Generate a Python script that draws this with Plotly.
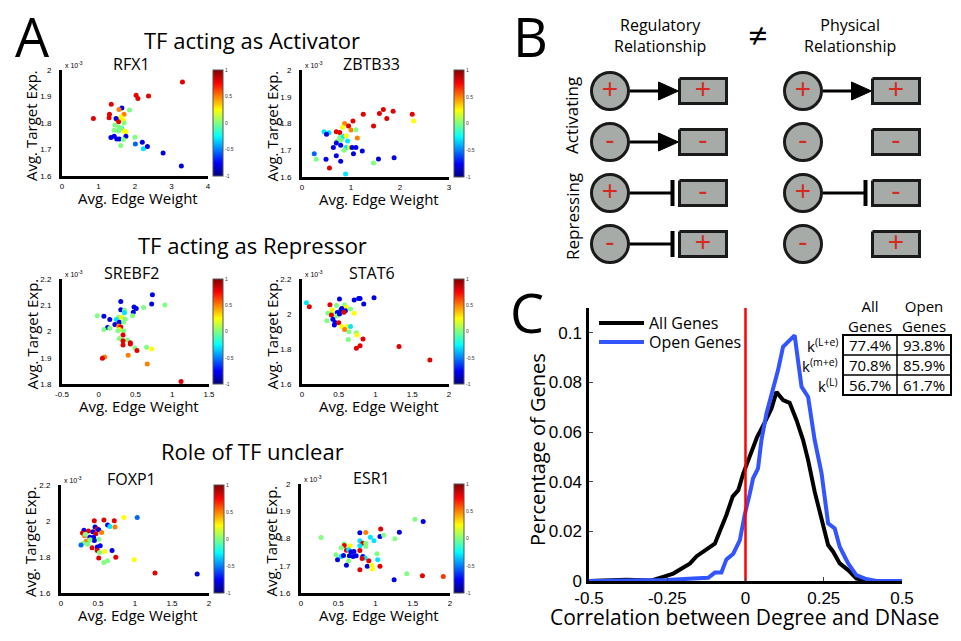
import plotly.graph_objects as go

W, H = 961, 641
def px(x): return x / W
def py(y): return 1 - y / H

MY = "Open Sans"
AR = "Liberation Sans"

# ---------------- Panel A data (y in units of 1e-3) ----------------
rfx1_x = [3.30, 2.03, 2.08, 2.37, 1.35, 0.86, 1.30, 1.29, 1.64, 1.56,
          1.70, 1.61, 1.50, 1.48, 1.68, 1.55, 1.70, 1.85, 1.45, 1.55,
          1.64, 1.43, 1.70, 1.75, 1.75, 1.34, 1.43, 1.50, 1.57, 1.68,
          1.61, 2.00, 2.20, 2.01, 2.23, 2.34, 2.77, 3.27, 1.61, 1.55]
rfx1_y = [1.955, 1.905, 1.892, 1.902, 1.871, 1.817, 1.833, 1.820, 1.857, 1.851,
          1.833, 1.823, 1.813, 1.817, 1.811, 1.805, 1.800, 1.849, 1.792, 1.785,
          1.779, 1.773, 1.770, 1.767, 1.750, 1.745, 1.750, 1.740, 1.740, 1.738,
          1.715, 1.746, 1.727, 1.721, 1.703, 1.711, 1.687, 1.638, 1.779, 1.770]
rfx1_c = [0.8, 0.8, 0.8, 0.8, 0.8, 0.8, 0.8, 0.8, -0.8, 0.5,
          0.5, 0.25, 0.5, -0.8, 0.25, 0.8, 0.0, 0.0, 0.0, 0.0,
          -0.3, 0.0, 0.25, 0.25, -0.8, -0.8, -0.8, -0.8, -0.8, 0.0,
          0.0, 0.0, -0.8, -0.55, -0.3, -0.8, -0.8, -0.8, 0.0, 0.0]

zbtb33_x = [1.86, 1.66, 1.58, 1.25, 1.73, 2.25, 2.28, 1.04, 1.46, 0.87,
            0.95, 0.83, 1.00, 1.10, 1.13, 0.70, 0.77, 0.45, 0.55, 0.50,
            0.77, 0.81, 0.79, 0.72, 0.85, 0.90, 0.93, 0.70, 0.79, 0.64,
            0.90, 0.97, 1.02, 1.10, 0.86, 1.23, 1.05, 0.70, 0.25, 0.29,
            0.49, 0.79, 0.56, 1.56, 1.88, 1.46, 0.89]
zbtb33_y = [1.846, 1.852, 1.837, 1.835, 1.819, 1.835, 1.809, 1.809, 1.791, 1.800,
            1.791, 1.786, 1.776, 1.777, 1.746, 1.769, 1.766, 1.769, 1.765, 1.760,
            1.748, 1.744, 1.737, 1.734, 1.752, 1.754, 1.735, 1.727, 1.719, 1.710,
            1.710, 1.710, 1.710, 1.710, 1.700, 1.697, 1.687, 1.679, 1.687, 1.666,
            1.666, 1.659, 1.634, 1.667, 1.672, 1.652, 1.611]
zbtb33_c = [0.8, 0.8, 0.8, 0.8, 0.8, 0.8, 0.25, 0.8, 0.8, 0.5,
            0.8, 0.25, 0.5, 0.0, 0.5, 0.8, 0.8, -0.3, -0.3, -0.8,
            0.0, 0.0, 0.0, 0.0, -0.3, 0.25, -0.3, -0.8, -0.8, -0.8,
            -0.3, 0.25, -0.8, -0.8, 0.0, -0.8, -0.8, -0.8, -0.55, 0.0,
            -0.8, -0.8, 0.8, -0.8, -0.8, 0.0, -0.3]

srebf2_x = [0.73, 0.72, 0.30, 0.90, 0.61, 0.48, 0.51, 0.30, 0.35, 0.47,
            0.35, 0.46, -0.02, 0.07, 0.15, 0.27, 0.31, 0.36, 0.24, 0.28,
            0.22, 0.34, 0.27, 0.30, 0.12, 0.15, 0.07, 0.28, 0.26, 0.34,
            0.33, 0.28, 0.39, 0.33, 0.43, 0.43, 0.33, 0.49, 0.65, 0.72,
            0.52, 0.40, 0.08, 0.05, 0.66, 1.12]
srebf2_y = [2.140, 2.105, 2.114, 2.101, 2.091, 2.093, 2.088, 2.083, 2.081, 2.073,
            2.071, 2.060, 2.060, 2.058, 2.046, 2.054, 2.054, 2.048, 2.046, 2.035,
            2.027, 2.036, 2.021, 2.017, 2.015, 2.012, 2.008, 2.008, 2.003, 2.003,
            1.987, 1.973, 1.968, 1.965, 1.957, 1.952, 1.949, 1.937, 1.940, 1.933,
            1.928, 1.910, 1.903, 1.898, 1.876, 1.810]
srebf2_c = [-0.8, -0.8, -0.8, 0.0, 0.0, -0.8, -0.8, -0.8, 0.0, -0.8,
            -0.3, 0.0, 0.0, -0.8, -0.8, 0.0, 0.25, 0.0, -0.3, -0.8,
            -0.8, 0.0, 0.5, 0.8, -0.8, 0.0, 0.0, 0.25, 0.0, 0.0,
            0.8, 0.0, 0.0, 0.8, 0.8, 0.8, 0.8, 0.0, 0.0, 0.25,
            0.8, 0.5, 0.5, 0.8, 0.5, 0.8]

stat6_x = [0.98, 0.77, 0.79, 0.71, 0.51, 0.84, 0.06, 0.10, 0.38, 0.47,
           0.58, 0.60, 0.66, 0.54, 0.53, 0.59, 0.48, 0.35, 0.41, 0.57,
           0.71, 0.40, 0.47, 0.34, 0.42, 0.51, 0.45, 0.50, 0.44, 0.54,
           0.62, 0.66, 0.58, 0.64, 0.74, 0.75, 0.83, 0.63, 0.79, 0.74,
           1.32, 1.74, 0.41]
stat6_y = [2.093, 2.088, 2.088, 2.080, 2.086, 2.057, 2.065, 2.042, 2.053, 2.048,
           2.051, 2.038, 2.029, 2.032, 2.023, 2.019, 2.008, 2.004, 2.004, 2.010,
           2.004, 1.994, 1.989, 1.962, 1.970, 2.000, 1.952, 1.950, 1.937, 1.928,
           1.928, 1.928, 1.912, 1.899, 1.893, 1.880, 1.857, 1.855, 1.819, 1.804,
           1.815, 1.737, 2.023]
stat6_c = [-0.8, -0.8, -0.8, -0.8, -0.8, -0.8, -0.3, 0.8, 0.8, 0.0,
           0.0, 0.25, 0.0, -0.8, -0.8, -0.8, -0.8, 0.0, 0.0, 0.8,
           0.25, 0.8, 0.0, 0.0, -0.8, -0.8, -0.8, 0.8, -0.8, 0.25,
           0.25, -0.3, 0.5, 0.0, 0.0, 0.25, 0.8, 0.0, 0.8, 0.8,
           0.8, 0.8, 0.25]

foxp1_x = [1.03, 0.85, 0.58, 0.72, 0.45, 0.63, 0.66, 0.73, 0.46, 0.49,
           0.51, 0.31, 0.37, 0.43, 0.55, 0.29, 0.47, 0.32, 0.39, 0.44,
           0.51, 0.40, 0.45, 0.34, 0.30, 0.27, 0.36, 0.42, 0.49, 0.49,
           0.53, 0.59, 0.52, 0.69, 0.51, 0.74, 0.63, 0.58, 0.99, 1.27,
           1.84, 0.33, 0.39]
foxp1_y = [2.019, 2.019, 2.006, 2.002, 2.002, 1.978, 1.969, 1.967, 1.966, 1.956,
           1.951, 1.949, 1.945, 1.940, 1.936, 1.934, 1.929, 1.918, 1.910, 1.910,
           1.899, 1.895, 1.892, 1.888, 1.877, 1.866, 1.871, 1.851, 1.855, 1.836,
           1.862, 1.831, 1.825, 1.836, 1.794, 1.798, 1.779, 1.770, 1.785, 1.711,
           1.705, 1.927, 1.895]
foxp1_c = [-0.55, 0.25, 0.8, 0.8, 0.8, -0.8, -0.3, 0.5, -0.8, 0.8,
           -0.8, -0.8, 0.8, -0.8, 0.5, 0.8, 0.8, 0.5, -0.8, -0.8,
           0.0, 0.0, -0.8, 0.5, 0.0, -0.55, 0.0, 0.8, -0.8, 0.8,
           -0.8, 0.25, 0.0, -0.8, 0.8, 0.8, 0.0, 0.0, 0.25, 0.8,
           -0.8, 0.0, 0.0]

esr1_x = [1.53, 1.64, 0.27, 0.79, 0.87, 1.07, 1.32, 0.93, 1.06, 1.11,
          1.26, 0.98, 0.79, 0.83, 0.87, 0.58, 0.66, 0.58, 0.79, 0.87,
          0.54, 0.61, 0.64, 0.71, 0.67, 0.79, 0.47, 0.54, 0.57, 0.65,
          0.70, 0.74, 0.83, 0.86, 0.82, 1.02, 0.91, 0.49, 0.64, 1.03,
          0.61, 0.89, 1.06, 0.95, 0.96, 0.79, 1.25, 1.42, 1.63, 1.91]
esr1_y = [1.871, 1.862, 1.804, 1.821, 1.822, 1.835, 1.823, 1.805, 1.807, 1.812,
          1.799, 1.792, 1.792, 1.783, 1.783, 1.780, 1.773, 1.774, 1.773, 1.771,
          1.766, 1.757, 1.759, 1.752, 1.751, 1.756, 1.740, 1.734, 1.738, 1.737,
          1.734, 1.737, 1.734, 1.728, 1.727, 1.744, 1.718, 1.722, 1.718, 1.722,
          1.702, 1.698, 1.698, 1.702, 1.688, 1.685, 1.649, 1.671, 1.663, 1.661]
esr1_c = [0.0, -0.8, 0.0, -0.8, 0.5, 0.8, -0.8, -0.3, -0.8, 0.0,
          0.0, -0.3, -0.3, 0.8, 0.0, 0.0, 0.25, 0.8, -0.3, 0.0,
          0.0, 0.8, -0.3, -0.8, -0.8, 0.8, 0.0, -0.3, -0.8, -0.8,
          -0.8, -0.8, -0.8, -0.3, 0.8, 0.0, 0.8, -0.8, 0.0, -0.3,
          -0.8, -0.8, 0.8, 0.25, 0.25, 0.8, -0.8, 0.0, 0.8, 0.65]

colorbar_ticks = [-1, -0.5, 0, 0.5, 1]

# ---------------- Panel C data ----------------
all_genes_x = [-0.5, -0.4, -0.38, -0.3, -0.284, -0.263, -0.231, -0.199, -0.178, -0.156,
               -0.124, -0.098, -0.082, -0.061, -0.041, -0.023, -0.007, 0.014, 0.037, 0.062,
               0.083, 0.099, 0.12, 0.141, 0.163, 0.184, 0.2, 0.221, 0.243, 0.264,
               0.28, 0.301, 0.328, 0.354, 0.386, 0.5]
all_genes_y = [0, 0.0002, 0.0005, 0.0002, 0.001, 0.0017, 0.003, 0.0055, 0.007, 0.010,
               0.0125, 0.015, 0.020, 0.0266, 0.034, 0.0366, 0.0434, 0.050, 0.058, 0.064,
               0.0695, 0.0762, 0.0729, 0.0718, 0.0648, 0.0568, 0.0487, 0.036, 0.0246, 0.0145,
               0.0118, 0.0071, 0.0044, 0.001, 0, 0]
open_genes_x = [-0.5, -0.295, -0.252, -0.167, -0.119, -0.098, -0.077, -0.061, -0.039, -0.018,
                -0.002, 0.014, 0.024, 0.04, 0.051, 0.067, 0.088, 0.104, 0.12, 0.136,
                0.157, 0.179, 0.2, 0.221, 0.243, 0.264, 0.285, 0.301, 0.328, 0.354,
                0.386, 0.418, 0.5]
open_genes_y = [0, 0, 0.0004, 0.001, 0.0013, 0.0034, 0.0034, 0.0087, 0.011, 0.0165,
                0.027, 0.0353, 0.0413, 0.0454, 0.0568, 0.0675, 0.077, 0.085, 0.0944, 0.0964,
                0.099, 0.0783, 0.0742, 0.0568, 0.0434, 0.0232, 0.0212, 0.0138, 0.0071, 0.0024,
                0.0008, 0, 0]
c_xticks = [-0.5, -0.25, 0, 0.25, 0.5]
c_yticks = [0, 0.02, 0.04, 0.06, 0.08, 0.1]
zero_corr = 0

table_rows = ["k<sup>(L+e)</sup>", "k<sup>(m+e)</sup>", "k<sup>(L)</sup>"]
table_cols = ["All<br>Genes", "Open<br>Genes"]
table_all = ["77.4%", "70.8%", "56.7%"]
table_open = ["93.8%", "85.9%", "61.7%"]

# ---------------- Panel B data ----------------
b_tf_sign = ["+", "-", "+", "-"]
b_target_sign = ["+", "-", "-", "+"]
b_regulatory_edge = ["activate", "activate", "repress", "repress"]
b_physical_edge = ["activate", "none", "repress", "none"]

# ---------------- figure ----------------
jet = [[0, "#00007F"], [0.125, "#0000FF"], [0.375, "#00FFFF"],
       [0.625, "#FFFF00"], [0.875, "#FF0000"], [1, "#7F0000"]]

panels = [
    dict(name="RFX1", x=rfx1_x, y=rfx1_y, c=rfx1_c, xr=[0, 4], xt=[0, 1, 2, 3, 4],
         yr=[1.6, 2.0], yt=[1.6, 1.7, 1.8, 1.9, 2.0], box=(62, 208, 70, 176), cb=213),
    dict(name="ZBTB33", x=zbtb33_x, y=zbtb33_y, c=zbtb33_c, xr=[0, 3], xt=[0, 1, 2, 3],
         yr=[1.6, 2.0], yt=[1.6, 1.7, 1.8, 1.9, 2.0], box=(302, 449, 70, 177), cb=454),
    dict(name="SREBF2", x=srebf2_x, y=srebf2_y, c=srebf2_c, xr=[-0.5, 1.5], xt=[-0.5, 0, 0.5, 1, 1.5],
         yr=[1.8, 2.2], yt=[1.8, 1.9, 2.0, 2.1, 2.2], box=(62, 209, 279, 384), cb=213),
    dict(name="STAT6", x=stat6_x, y=stat6_y, c=stat6_c, xr=[0, 2], xt=[0, 0.5, 1, 1.5, 2],
         yr=[1.6, 2.2], yt=[1.6, 1.8, 2.0, 2.2], box=(302, 449, 279, 384), cb=454),
    dict(name="FOXP1", x=foxp1_x, y=foxp1_y, c=foxp1_c, xr=[0, 2], xt=[0, 0.5, 1, 1.5, 2],
         yr=[1.6, 2.2], yt=[1.6, 1.8, 2.0, 2.2], box=(61, 209, 485, 593), cb=214),
    dict(name="ESR1", x=esr1_x, y=esr1_y, c=esr1_c, xr=[0, 2], xt=[0, 0.5, 1, 1.5, 2],
         yr=[1.6, 2.0], yt=[1.6, 1.7, 1.8, 1.9, 2.0], box=(301, 450, 484, 593), cb=454),
]

fig = go.Figure()
layout = dict(width=W, height=H, margin=dict(l=0, r=0, t=0, b=0, autoexpand=False),
              paper_bgcolor="white", plot_bgcolor="white", showlegend=True)
annotations = []
shapes = []

def fmt(v):
    return f"{v:g}"

def note(text, x, y, size, family=MY, angle=0, xanchor="center", color="black"):
    annotations.append(dict(text=text, x=px(x), y=py(y), xref="paper", yref="paper", showarrow=False,
                            textangle=angle, font=dict(size=size, family=family, color=color),
                            xanchor=xanchor, yanchor="middle"))

for i, p in enumerate(panels, start=1):
    l, r, t, b = p["box"]
    sfx = "" if i == 1 else str(i)
    fig.add_trace(go.Scatter(
        x=p["x"], y=p["y"], mode="markers", xaxis="x" + sfx, yaxis="y" + sfx,
        showlegend=False, hoverinfo="skip",
        marker=dict(size=5, color=p["c"], colorscale=jet, cmin=-1, cmax=1,
                    line=dict(width=0),
                    colorbar=dict(x=px(p["cb"]), xanchor="left", xpad=0, ypad=0,
                                  y=py((t + b) / 2), yanchor="middle",
                                  len=b - t, lenmode="pixels",
                                  thickness=10, thicknessmode="pixels",
                                  outlinewidth=1, outlinecolor="#555",
                                  tickvals=colorbar_ticks,
                                  ticktext=[fmt(v) for v in colorbar_ticks],
                                  ticks="", tickfont=dict(size=5, family=AR, color="#333")))))
    layout["xaxis" + sfx] = dict(domain=[px(l), px(r)], range=p["xr"], tickvals=p["xt"],
                                 ticktext=[fmt(v) for v in p["xt"]],
                                 showline=True, linewidth=3, linecolor="black", ticks="",
                                 showgrid=False, zeroline=False, anchor="y" + sfx,
                                 tickfont=dict(size=8, family=AR, color="black"))
    layout["yaxis" + sfx] = dict(domain=[py(b), py(t)], range=p["yr"], tickvals=p["yt"],
                                 ticktext=[fmt(v) for v in p["yt"]],
                                 showline=True, linewidth=3, linecolor="black", ticks="",
                                 showgrid=False, zeroline=False, anchor="x" + sfx,
                                 ticklabelstandoff=6,
                                 tickfont=dict(size=8, family=AR, color="black"))
    note(p["name"], (l + r) / 2 - 4, t - 6, 16)
    note("x 10<sup>-3</sup>", l + 1, t - 5, 7, family=AR, xanchor="left")
    note("Avg. Edge Weight", (l + r) / 2 + 3, b + 22, 15)
    note("Avg. Target Exp.", l - 31, (t + b) / 2 + 3, 15, angle=-90)

for txt, yy in [("TF acting as Activator", 40), ("TF acting as Repressor", 245), ("Role of TF unclear", 451)]:
    note(txt, 252, yy, 22)

for letter, (lx, ly) in [("A", (32, 36)), ("B", (530, 36)), ("C", (527, 312))]:
    note(letter, lx, ly, 54)

# ---------------- Panel C ----------------
fig.add_trace(go.Scatter(x=all_genes_x, y=all_genes_y, mode="lines", name="All Genes", legend="legend",
                         line=dict(color="black", width=4), xaxis="x7", yaxis="y7"))
fig.add_trace(go.Scatter(x=open_genes_x, y=open_genes_y, mode="lines", name="Open Genes", legend="legend2",
                         line=dict(color="#3355FF", width=4), xaxis="x7", yaxis="y7"))
fig.add_trace(go.Scatter(x=[zero_corr, zero_corr], y=[0, 0.11], mode="lines", showlegend=False,
                         line=dict(color="red", width=2.5), xaxis="x7", yaxis="y7"))
layout["xaxis7"] = dict(domain=[px(589), px(902)], range=[-0.5, 0.5], tickvals=c_xticks,
                        ticktext=[fmt(v) for v in c_xticks], showline=True, linewidth=2.5, linecolor="black",
                        ticks="inside", ticklen=4, tickwidth=1, showgrid=False, zeroline=False, anchor="y7",
                        tickfont=dict(size=17, family=AR, color="black"))
layout["yaxis7"] = dict(domain=[py(581), py(308)], range=[0, 0.11], tickvals=c_yticks,
                        ticktext=[fmt(v) for v in c_yticks], showline=True, linewidth=2.5, linecolor="black",
                        ticks="inside", ticklen=4, tickwidth=1, showgrid=False, zeroline=False, anchor="x7",
                        ticklabelstandoff=1,
                        tickfont=dict(size=17, family=AR, color="black"))
leg_common = dict(x=px(594), xanchor="left", yanchor="top", bgcolor="rgba(0,0,0,0)",
                  font=dict(size=16, family=MY, color="black"), itemwidth=45)
layout["legend"] = dict(y=py(306), **leg_common)
layout["legend2"] = dict(y=py(325), **leg_common)
note("Correlation between Degree and DNase", 744, 617, 21)
note("Percentage of Genes", 538, 450, 20, angle=-90)

# table (borders + text)
tx0, tx1, ty0, row_h = 843, 951, 335, 20
tmid = (tx0 + tx1) / 2
n_rows = len(table_rows)
shapes.append(dict(type="rect", xref="paper", yref="paper", x0=px(tx0), x1=px(tx1),
                   y0=py(ty0 + row_h * n_rows), y1=py(ty0), line=dict(color="black", width=2)))
shapes.append(dict(type="line", xref="paper", yref="paper", x0=px(tmid), x1=px(tmid),
                   y0=py(ty0 + row_h * n_rows), y1=py(ty0), line=dict(color="black", width=1.5)))
for k in range(1, n_rows):
    shapes.append(dict(type="line", xref="paper", yref="paper", x0=px(tx0), x1=px(tx1),
                       y0=py(ty0 + row_h * k), y1=py(ty0 + row_h * k), line=dict(color="black", width=1.5)))
for col, (head, vals) in enumerate(zip(table_cols, [table_all, table_open])):
    cxm = tx0 + (tx1 - tx0) * (col + 0.5) / 2
    note(head, cxm, ty0 - 19, 15)
    for k, v in enumerate(vals):
        note(v, cxm, ty0 + row_h * (k + 0.5), 15)
for k, lab in enumerate(table_rows):
    note(lab, tx0 - 3, ty0 + row_h * (k + 0.5), 15, xanchor="right")

# ---------------- Panel B (diagram on pixel-scaled hidden axis) ----------------
layout["xaxis8"] = dict(domain=[px(560), px(960)], range=[560, 960], visible=False, anchor="y8", fixedrange=True)
layout["yaxis8"] = dict(domain=[py(265), py(0)], range=[265, 0], visible=False, anchor="x8", fixedrange=True)

GRAY = "#A6ABA8"
SIGN = "#D42A20"
row_y0, row_dy = 91, 51
circle_cols = [610, 803]
rect_dx, rect_w, rect_h, circ_r = 93, 47, 25, 19.5
edge_sets = [b_regulatory_edge, b_physical_edge]

for j, cx in enumerate(circle_cols):
    rx = cx + rect_dx
    for i in range(len(b_tf_sign)):
        cy = row_y0 + row_dy * i
        kind = edge_sets[j][i]
        start, end = cx + circ_r, rx - rect_w / 2 - 1
        if kind == "activate":
            fig.add_trace(go.Scatter(x=[start, end - 16], y=[cy, cy], mode="lines", xaxis="x8", yaxis="y8",
                                     line=dict(color="black", width=3), showlegend=False, hoverinfo="skip"))
            fig.add_trace(go.Scatter(x=[end - 20, end, end - 20, end - 20], y=[cy - 9, cy, cy + 9, cy - 9],
                                     mode="lines", fill="toself", fillcolor="black", xaxis="x8", yaxis="y8",
                                     line=dict(color="black", width=1), showlegend=False, hoverinfo="skip"))
        elif kind == "repress":
            bx = end - 6
            fig.add_trace(go.Scatter(x=[start, bx], y=[cy, cy], mode="lines", xaxis="x8", yaxis="y8",
                                     line=dict(color="black", width=3), showlegend=False, hoverinfo="skip"))
            fig.add_trace(go.Scatter(x=[bx, bx], y=[cy - 13, cy + 13], mode="lines", xaxis="x8", yaxis="y8",
                                     line=dict(color="black", width=4), showlegend=False, hoverinfo="skip"))
        fig.add_trace(go.Scatter(x=[rx - rect_w / 2, rx + rect_w / 2, rx + rect_w / 2, rx - rect_w / 2, rx - rect_w / 2],
                                 y=[cy - rect_h / 2, cy - rect_h / 2, cy + rect_h / 2, cy + rect_h / 2, cy - rect_h / 2],
                                 mode="lines", fill="toself", fillcolor=GRAY, xaxis="x8", yaxis="y8",
                                 line=dict(color="#1a1a1a", width=3), showlegend=False, hoverinfo="skip"))
    ys = [row_y0 + row_dy * i for i in range(len(b_tf_sign))]
    fig.add_trace(go.Scatter(x=[cx] * len(ys), y=ys, mode="markers", xaxis="x8", yaxis="y8",
                             marker=dict(size=37, color=GRAY, line=dict(color="#1a1a1a", width=3)),
                             showlegend=False, hoverinfo="skip"))
    fig.add_trace(go.Scatter(x=[cx] * len(ys), y=ys, mode="text", xaxis="x8", yaxis="y8",
                             text=b_tf_sign, textposition="middle center",
                             textfont=dict(size=28, family=AR, color=SIGN), showlegend=False, hoverinfo="skip"))
    fig.add_trace(go.Scatter(x=[rx] * len(ys), y=ys, mode="text", xaxis="x8", yaxis="y8",
                             text=b_target_sign, textposition="middle center",
                             textfont=dict(size=28, family=AR, color=SIGN), showlegend=False, hoverinfo="skip"))

note("Regulatory<br>Relationship", 660, 35, 16)
note("Physical<br>Relationship", 850, 35, 16)
note("≠", 757, 35, 34)
note("Activating", 572, 116, 17, angle=-90)
note("Repressing", 572, 217, 17, angle=-90)

layout["annotations"] = annotations
layout["shapes"] = shapes
fig.update_layout(**layout)
fig.write_html("out.html", config={"displayModeBar": False},
               post_script="document.body.style.margin='0';")
